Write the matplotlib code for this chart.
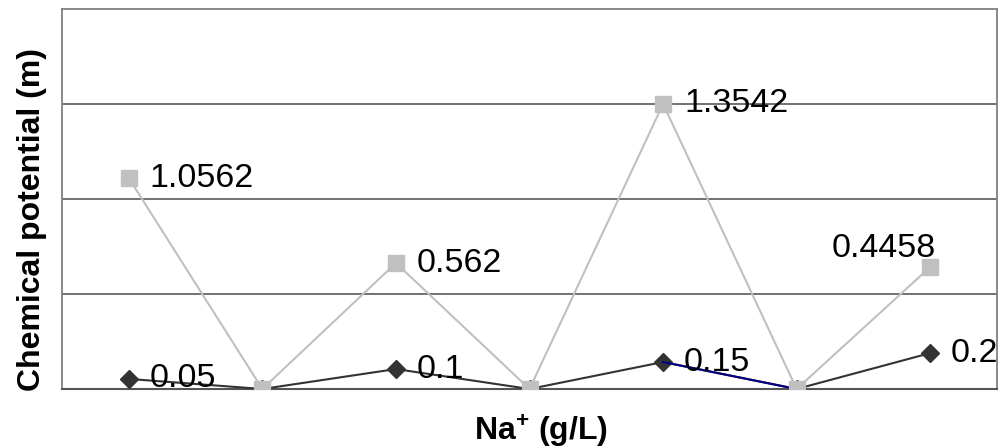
import numpy as np
import matplotlib
matplotlib.use("Agg")
import matplotlib.pyplot as plt

plt.rcParams['font.family'] = ['Liberation Sans', 'DejaVu Sans']
plt.rcParams['mathtext.fontset'] = 'custom'
plt.rcParams['mathtext.rm'] = 'Liberation Sans'
plt.rcParams['mathtext.bf'] = 'Liberation Sans:bold'

# ---- data ----
points = np.arange(7)
# dark diamond series: plotted height and its data label
dia_y = [0.053, 0.0, 0.105, 0.0, 0.142, 0.0, 0.189]
dia_lab = ['0.05', None, '0.1', None, '0.15', None, '0.2']
# light grey square series
sq_y = [1.11, 0.0, 0.663, 0.0, 1.50, 0.0, 0.642]
sq_lab = ['1.0562', None, '0.562', None, '1.3542', None, '0.4458']

dark = '#333333'
light = '#c0c0c0'

fig = plt.figure(figsize=(10.02, 4.48), dpi=100)
ax = fig.add_axes([62/1002, (448-389)/448, 935/1002, 380/448])

# grid lines
for g in [0.5, 1.0, 1.5]:
    ax.axhline(g, color='#666666', lw=1.3, zorder=1)

ax.plot(points, dia_y, color=dark, lw=1.5, marker='D', ms=9.5,
        mfc=dark, mec=dark, zorder=3)
# one segment of this series is drawn in navy in the original
ax.plot(points[4:6], dia_y[4:6], color='#000080', lw=1.5, zorder=3)
ax.plot(points, sq_y, color=light, lw=1.5, marker='s', ms=11,
        mfc=light, mec=light, zorder=4)

# data labels
fs = 24.5
for x, y, t in zip(points, dia_y, dia_lab):
    if t:
        ax.annotate(t, (x, y), xytext=(15, 0), textcoords='offset points',
                    ha='left', va='center', fontsize=fs, zorder=5)
for x, y, t in zip(points, sq_y, sq_lab):
    if t is None:
        continue
    if t == '0.4458':
        ax.annotate(t, (x, y), xytext=(4, 13), textcoords='offset points',
                    ha='right', va='center', fontsize=fs, zorder=5)
    else:
        ax.annotate(t, (x, y), xytext=(15, 0), textcoords='offset points',
                    ha='left', va='center', fontsize=fs, zorder=5)

ax.set_xlim(-0.5, 6.5)
ax.set_ylim(0, 2)
ax.set_xticks([])
ax.set_yticks([])
for s in ['top', 'right', 'left']:
    ax.spines[s].set_color('#808080')
    ax.spines[s].set_linewidth(1.3)
ax.spines['bottom'].set_color('#555555')
ax.spines['bottom'].set_linewidth(1.5)

ax.set_ylabel('Chemical potential (m)', fontsize=23, fontweight='bold')
ax.yaxis.set_label_coords(-0.016, 0.447)
ax.set_xlabel(r'Na$^{\mathbf{+}}$ (g/L)', fontsize=23, fontweight='bold')
ax.xaxis.set_label_coords(0.512, -0.06)

fig.savefig('out.png', dpi=100)
